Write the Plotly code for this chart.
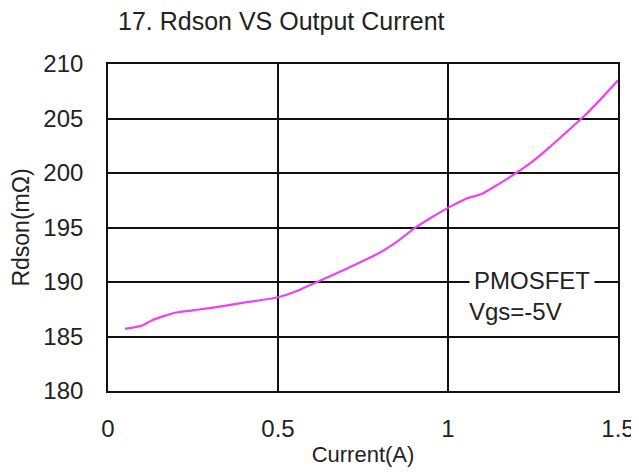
import plotly.graph_objects as go

current = [0.05, 0.1, 0.13, 0.2, 0.25, 0.3, 0.4, 0.5, 0.55, 0.6, 0.7, 0.8, 0.85, 0.9,
           0.95, 1.0, 1.05, 1.1, 1.15, 1.2, 1.25, 1.3, 1.35, 1.4, 1.45, 1.5]
rdson = [185.7, 186.0, 186.5, 187.2, 187.4, 187.6, 188.1, 188.6, 189.1, 189.8, 191.2,
         192.7, 193.7, 194.9, 195.9, 196.8, 197.6, 198.1, 199.0, 200.0, 201.1, 202.4,
         203.8, 205.2, 206.8, 208.5]
x_ticks = [0, 0.5, 1, 1.5]
x_tick_labels = ["0", "0.5", "1", "1.5"]
y_ticks = [180, 185, 190, 195, 200, 205, 210]

FONT = "Liberation Sans, Arial, sans-serif"
TXT = "#222222"

fig = go.Figure()
fig.add_trace(go.Scatter(x=current, y=rdson, mode="lines",
                         line=dict(color="#F040F0", width=2.2, shape="spline", smoothing=0.6),
                         showlegend=False, hoverinfo="skip"))

# page has an 8px body margin, so the figure is sized to the visible area
fig.update_layout(
    width=631, height=465,
    margin=dict(l=100, r=21, t=56, b=82, autoexpand=False),
    paper_bgcolor="white", plot_bgcolor="white",
    font=dict(family=FONT, color=TXT),
    title=dict(text="17. Rdson VS Output Current", x=110/631, xanchor="left",
               y=1 - 13/465, yanchor="middle", automargin=False,
               font=dict(family=FONT, size=25, color=TXT)),
    xaxis=dict(range=[0, 1.5], tickvals=x_ticks, ticktext=x_tick_labels,
               showgrid=True, gridcolor="#111111", gridwidth=1.6,
               showline=True, linecolor="#111111", linewidth=1.6, mirror=True,
               zeroline=False, ticks="", ticklabelstandoff=15, automargin=False,
               tickfont=dict(size=24, family=FONT, color=TXT),
               title=dict(text="Current(A)", standoff=6, font=dict(size=22, family=FONT, color=TXT))),
    yaxis=dict(range=[180, 210], tickvals=y_ticks,
               showgrid=True, gridcolor="#111111", gridwidth=1.6,
               showline=True, linecolor="#111111", linewidth=1.6, mirror=True,
               zeroline=False, ticks="", ticklabelstandoff=18, automargin=False,
               tickfont=dict(size=24, family=FONT, color=TXT),
               title=dict(text="Rdson(mΩ)", standoff=8, font=dict(size=23, family=FONT, color=TXT))),
)

fig.add_annotation(x=1.247, y=190.1, xref="x", yref="y", text="PMOSFET", showarrow=False,
                   bgcolor="white", borderpad=4, xanchor="center", yanchor="middle",
                   font=dict(size=24, family=FONT, color=TXT))
fig.add_annotation(x=1.055, y=187.3, xref="x", yref="y", text="Vgs=-5V", showarrow=False,
                   xanchor="left", yanchor="middle",
                   font=dict(size=24, family=FONT, color=TXT))

fig.write_html("out.html")
